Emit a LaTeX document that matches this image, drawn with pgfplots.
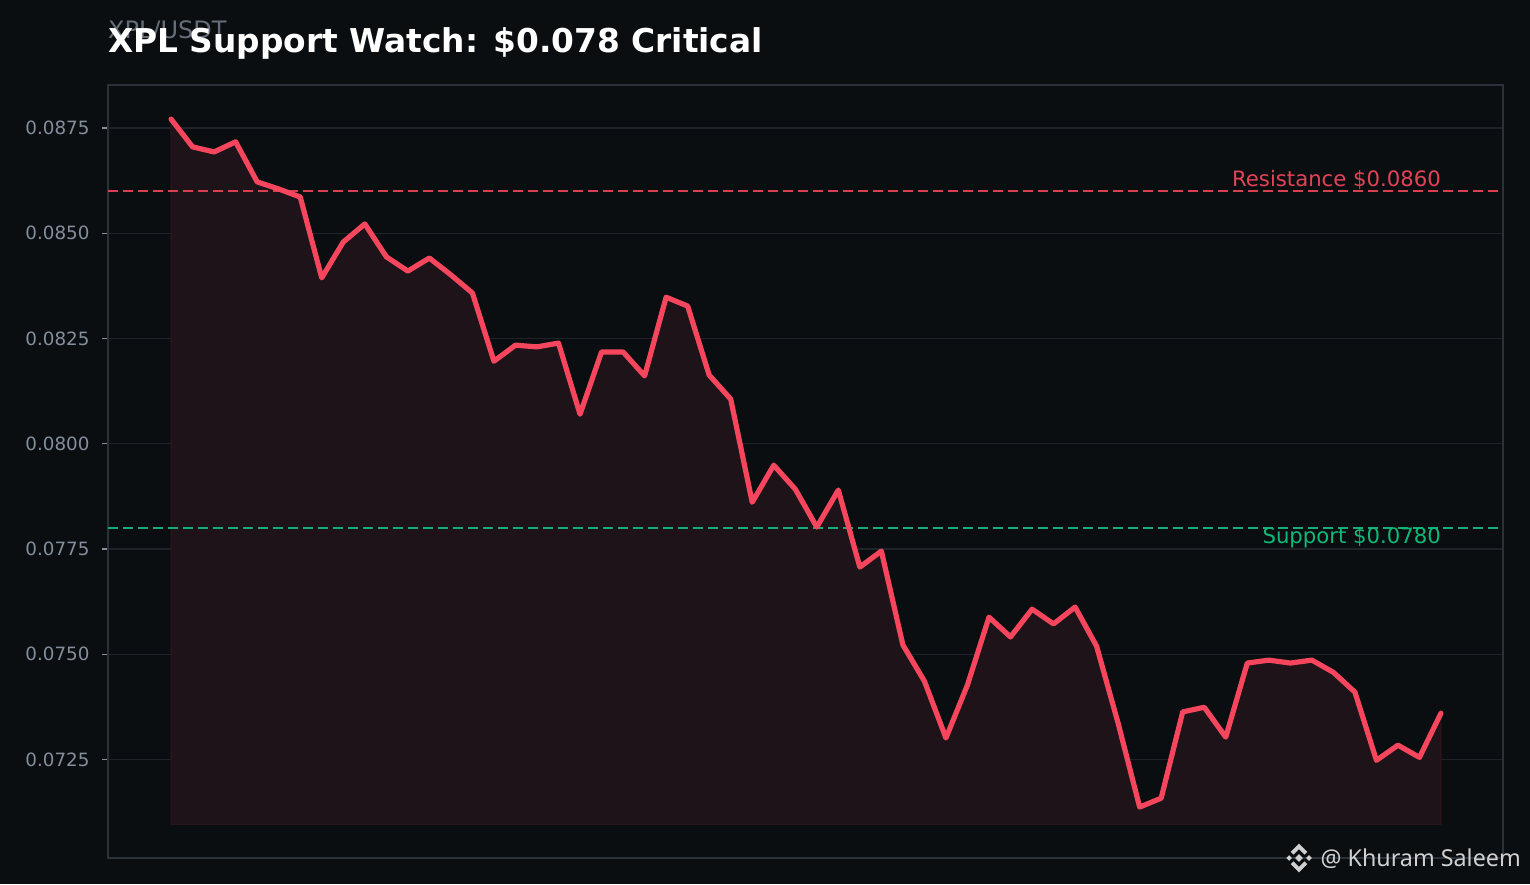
\documentclass[border=0pt]{standalone}
\usepackage{pgfplots}
\pgfplotsset{compat=1.18}
\usepackage{fontspec}
\setmainfont{DejaVu Sans}
\newfontfamily\wmfont{Noto Sans}
\definecolor{bg}{HTML}{0B0E11}
\definecolor{redl}{HTML}{F6465D}
\definecolor{redd}{HTML}{D8404F}
\definecolor{fillc}{HTML}{1E1318}
\definecolor{greenl}{HTML}{0ECB81}
\definecolor{greend}{HTML}{16AE78}
\definecolor{tickc}{HTML}{848E9C}
\definecolor{spine}{HTML}{2B3139}
\definecolor{gridc}{HTML}{1E2329}
\definecolor{wm}{HTML}{D0D0D0}
\pgfplotstableread{
x y
0 0.08771
1 0.08705
2 0.08693
3 0.08717
4 0.08622
5 0.08605
6 0.08586
7 0.08394
8 0.08479
9 0.08522
10 0.08444
11 0.08410
12 0.08441
13 0.08401
14 0.08358
15 0.08196
16 0.08234
17 0.08230
18 0.08239
19 0.08070
20 0.08218
21 0.08218
22 0.08161
23 0.08348
24 0.08327
25 0.08163
26 0.08106
27 0.07861
28 0.07949
29 0.07892
30 0.07802
31 0.07890
32 0.07707
33 0.07745
34 0.07522
35 0.07436
36 0.07301
37 0.07427
38 0.07588
39 0.07541
40 0.07607
41 0.07572
42 0.07612
43 0.07519
44 0.07336
45 0.07137
46 0.07158
47 0.07363
48 0.07374
49 0.07303
50 0.07479
51 0.07486
52 0.07479
53 0.07486
54 0.07457
55 0.07410
56 0.07248
57 0.07284
58 0.07255
59 0.07360
}\price
\pgfplotstableread{
x y
0 0.07096
0 0.08771
1 0.08705
2 0.08693
3 0.08717
4 0.08622
5 0.08605
6 0.08586
7 0.08394
8 0.08479
9 0.08522
10 0.08444
11 0.08410
12 0.08441
13 0.08401
14 0.08358
15 0.08196
16 0.08234
17 0.08230
18 0.08239
19 0.08070
20 0.08218
21 0.08218
22 0.08161
23 0.08348
24 0.08327
25 0.08163
26 0.08106
27 0.07861
28 0.07949
29 0.07892
30 0.07802
31 0.07890
32 0.07707
33 0.07745
34 0.07522
35 0.07436
36 0.07301
37 0.07427
38 0.07588
39 0.07541
40 0.07607
41 0.07572
42 0.07612
43 0.07519
44 0.07336
45 0.07137
46 0.07158
47 0.07363
48 0.07374
49 0.07303
50 0.07479
51 0.07486
52 0.07479
53 0.07486
54 0.07457
55 0.07410
56 0.07248
57 0.07284
58 0.07255
59 0.07360
59 0.07096
}\area
\begin{document}
\begin{tikzpicture}
\fill[bg] (0,0) rectangle (1530pt,884pt);
\node[anchor=base west, inner sep=0, text=tickc!75!bg, font=\fontsize{24}{28}\selectfont] at (108pt,845pt) {XPL/USDT};
\node[anchor=base west, inner sep=0, text=white, font=\fontsize{32.8}{38}\selectfont\bfseries] at (108pt,831pt) {XPL Support Watch: \$0.078 Critical};
\begin{axis}[
  at={(108pt,26pt)}, anchor=south west,
  scale only axis, width=1395pt, height=773pt,
  xmin=-2.93, xmax=61.88,
  ymin=0.07016, ymax=0.08852,
  xtick=\empty,
  ytick={0.0725,0.075,0.0775,0.08,0.0825,0.085,0.0875},
  scaled y ticks=false,
  yticklabel style={/pgf/number format/.cd, fixed, fixed zerofill, precision=4, assume math mode=true},
  yticklabel={\pgfmathprintnumber{\tick}},
  ticklabel style={text=tickc, font=\fontsize{18.3}{20}\selectfont, xshift=-9pt},
  ytick pos=left, tick align=outside, major tick length=6pt,
  tick style={draw=tickc, line width=1.3pt},
  ymajorgrids, grid style={draw=gridc, line width=1.2pt},
  axis line style={draw=spine, line width=1.6pt},
  clip=true,
]
\addplot[fill=fillc, draw=redl!12!fillc, line width=0.8pt] table[x=x,y=y] {\area} -- cycle;
\addplot[redd, dashed, dash pattern=on 10pt off 5pt, line width=2.6pt] coordinates {(-2.93,0.0860) (61.88,0.0860)};
\addplot[greend, dashed, dash pattern=on 10pt off 5pt, line width=2.6pt] coordinates {(-2.93,0.0780) (61.88,0.0780)};
\addplot[redl, line width=5.2pt, line join=round, line cap=round] table[x=x,y=y] {\price};
\node[anchor=base east, inner sep=0, text=redl!92!bg, font=\fontsize{21.2}{24}\selectfont] at (axis cs:59,0.08610) {Resistance \$0.0860};
\node[anchor=base east, inner sep=0, text=greenl!90!bg, font=\fontsize{21.2}{24}\selectfont] at (axis cs:59,0.07762) {Support \$0.0780};
\end{axis}
% watermark logo
\begin{scope}[shift={(1299pt,26pt)}, x=1.1pt, y=1.1pt]
\fill[wm] (0,3.6) -- (3.6,0) -- (0,-3.6) -- (-3.6,0) -- cycle;
\fill[wm] (-9,2.6) -- (-6.4,0) -- (-9,-2.6) -- (-11.6,0) -- cycle;
\fill[wm] (9,2.6) -- (11.6,0) -- (9,-2.6) -- (6.4,0) -- cycle;
\fill[wm] (0,13) -- (7.5,5.5) -- (5,3) -- (0,8) -- (-5,3) -- (-7.5,5.5) -- cycle;
\fill[wm] (0,-13) -- (7.5,-5.5) -- (5,-3) -- (0,-8) -- (-5,-3) -- (-7.5,-5.5) -- cycle;
\end{scope}
\node[anchor=base east, inner sep=0, text=wm, font=\wmfont\fontsize{23.3}{26}\selectfont] at (1521pt,18pt) {@ Khuram Saleem};
\pgfresetboundingbox
\useasboundingbox (0,0) rectangle (1530pt,884pt);
\end{tikzpicture}
\end{document}
